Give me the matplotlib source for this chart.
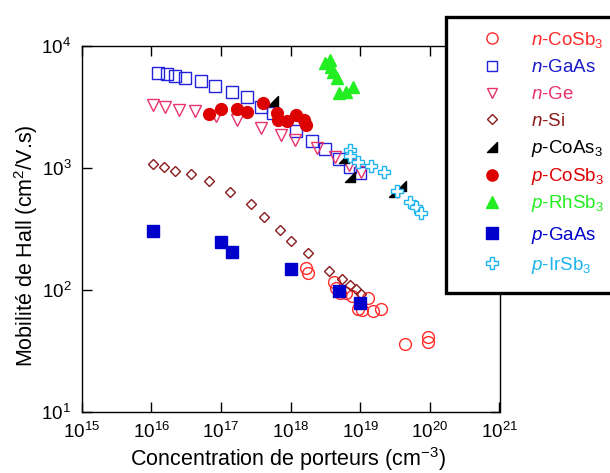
import numpy as np
import matplotlib
matplotlib.use("Agg")
import matplotlib.pyplot as plt
from matplotlib.path import Path
from matplotlib.lines import Line2D
from matplotlib.patches import Rectangle
from matplotlib.ticker import LogLocator, NullLocator

plt.rcParams['font.family'] = 'Liberation Sans'
plt.rcParams['mathtext.fontset'] = 'custom'
plt.rcParams['mathtext.rm'] = 'Liberation Sans'
plt.rcParams['mathtext.it'] = 'Liberation Sans:italic'
plt.rcParams['font.size'] = 13.5

# Data (carrier concentration in cm^-3, mobility in cm^2/V.s)
n_cosb3_x = [1.64e18, 1.78e18, 4.2e18, 4.45e18, 5.1e18, 6.2e18, 7.5e18, 9.3e18,
             1.06e19, 1.29e19, 1.53e19, 2.0e19, 4.45e19, 9.4e19, 9.4e19]
n_cosb3_y = [150, 136, 116, 103, 94, 94, 88, 70, 68, 85, 67, 70, 36, 41, 37.5]

n_gaas_x = [1.23e16, 1.66e16, 2.18e16, 3.03e16, 5.1e16, 8.1e16, 1.42e17, 2.33e17,
            3.82e17, 5.6e17, 1.19e18, 2.0e18, 3.1e18, 5.0e18, 7.1e18, 9.8e18]
n_gaas_y = [6010, 5860, 5680, 5400, 5140, 4700, 4200, 3780,
            3160, 2790, 2010, 1650, 1415, 1180, 1020, 910]

n_ge_x = [1.07e16, 1.57e16, 2.5e16, 4.2e16, 8.6e16, 1.7e17, 3.7e17, 7.2e17,
          1.17e18, 2.4e18, 4.4e18, 6.8e18, 1.04e19]
n_ge_y = [3265, 3130, 2970, 2915, 2650, 2460, 2100, 1850,
          1690, 1440, 1230, 1050, 927]

n_si_x = [1.07e16, 1.5e16, 2.2e16, 3.7e16, 6.8e16, 1.37e17, 2.66e17, 4.17e17,
          7.0e17, 1.0e18, 1.75e18, 3.56e18, 5.4e18, 7.2e18, 8.8e18, 1.04e19]
n_si_y = [1070, 1008, 940, 883, 774, 629, 501, 397,
          309, 251, 199, 141, 122, 109, 101, 93]

p_coas3_x = [5.6e17, 5.9e18, 7.1e18, 3.1e19, 3.8e19]
p_coas3_y = [3520, 1195, 834, 632, 708]

p_cosb3_x = [6.8e16, 9.9e16, 1.7e17, 2.33e17, 4.0e17, 6.3e17, 6.6e17, 9.0e17,
             1.2e18, 1.57e18, 1.65e18]
p_cosb3_y = [2755, 3030, 3030, 2880, 3370, 2820, 2460, 2415,
             2680, 2460, 2240]

p_rhsb3_x = [3.1e18, 3.65e18, 3.86e18, 4.07e18, 4.65e18, 4.96e18, 6.3e18, 7.9e18]
p_rhsb3_y = [7170, 7630, 6730, 6120, 5400, 4070, 4200, 4610]

p_gaas_x = [1.05e16, 1.0e17, 1.42e17, 1.0e18, 5.0e18, 1.0e19]
p_gaas_y = [303, 247, 204, 147, 98, 78]

p_irsb3_x = [7.1e18, 7.1e18, 9.3e18, 1.45e19, 2.17e19, 3.37e19, 5.1e19, 6.4e19, 7.55e19]
p_irsb3_y = [1397, 1247, 1120, 1033, 927, 648, 526, 479, 423]

# right-angle triangle marker (like the black "wedge" in the original)
wedge = Path([(-1, -1), (1, -1), (1, 1), (-1, -1)],
             [Path.MOVETO, Path.LINETO, Path.LINETO, Path.CLOSEPOLY])

# label, x, y, marker, size, edge colour, face colour
series = [
    (r'$\it{n}$-CoSb$_3$', n_cosb3_x, n_cosb3_y, 'o', 8.5, '#ff2a2a', 'none'),
    (r'$\it{n}$-GaAs', n_gaas_x, n_gaas_y, 's', 8.0, '#2222dd', 'none'),
    (r'$\it{n}$-Ge', n_ge_x, n_ge_y, 'v', 8.0, '#e8336b', 'none'),
    (r'$\it{n}$-Si', n_si_x, n_si_y, 'D', 5.2, '#8b1a1a', 'none'),
    (r'$\it{p}$-CoAs$_3$', p_coas3_x, p_coas3_y, wedge, 7.5, 'black', 'black'),
    (r'$\it{p}$-CoSb$_3$', p_cosb3_x, p_cosb3_y, 'o', 8.5, '#dd0000', '#dd0000'),
    (r'$\it{p}$-RhSb$_3$', p_rhsb3_x, p_rhsb3_y, '^', 8.5, '#22ee22', '#22ee22'),
    (r'$\it{p}$-GaAs', p_gaas_x, p_gaas_y, 's', 9.0, '#0000cc', '#0000cc'),
    (r'$\it{p}$-IrSb$_3$', p_irsb3_x, p_irsb3_y, 'P', 8.5, '#1eb4f0', 'white'),
]
text_colors = ['#ff2a2a', '#1a1acc', '#e8336b', '#8b1a1a', 'black',
               '#dd0000', '#22ee22', '#0000cc', '#1eb4f0']

W, H = 610, 473
fig = plt.figure(figsize=(W / 100, H / 100), dpi=100)
ax = fig.add_axes([81.7 / W, 1 - 411.7 / H, (499.5 - 81.7) / W, (411.7 - 45.7) / H])

for lab, x, y, mk, ms, ec, fc in series:
    ax.plot(x, y, linestyle='none', marker=mk, ms=ms, mec=ec, mfc=fc, mew=1.0)

ax.set_xscale('log')
ax.set_yscale('log')
ax.set_xlim(1e15, 1e21)
ax.set_ylim(1e1, 1e4)
ax.xaxis.set_major_locator(LogLocator(base=10, numticks=10))
ax.yaxis.set_major_locator(LogLocator(base=10, numticks=10))
ax.xaxis.set_minor_locator(NullLocator())
ax.yaxis.set_minor_locator(NullLocator())
ax.tick_params(which='major', direction='in', length=7, width=1,
               top=True, right=True, labelsize=13.5)
ax.tick_params(axis='x', pad=7)
ax.tick_params(axis='y', pad=7.5)
for sp in ax.spines.values():
    sp.set_linewidth(1.0)

ax.set_xlabel(r'Concentration de porteurs (cm$^{-3}$)', fontsize=15.5)
ax.set_ylabel(r'Mobilité de Hall (cm$^{2}$/V.s)', fontsize=15.5)
ax.xaxis.set_label_coords(0.494, -0.090, transform=ax.transAxes)
ax.yaxis.set_label_coords(-0.101, 0.453, transform=ax.transAxes)

# legend box, drawn by hand so it runs past the right edge like the original
box = Rectangle((446 / W, 1 - 293 / H), (640 - 446) / W, (293 - 16.7) / H,
                transform=fig.transFigure, facecolor='white', edgecolor='black',
                linewidth=2.4, zorder=10, clip_on=False)
fig.add_artist(box)
row_y = [38.3, 65.7, 92.7, 119.5, 146.7, 174.5, 201.7, 233.3, 263]
for (lab, x, y, mk, ms, ec, fc), yy, tc in zip(series, row_y, text_colors):
    fy = 1 - yy / H
    fig.add_artist(Line2D([492 / W], [fy], transform=fig.transFigure, linestyle='none',
                          marker=mk, ms=ms * 0.95, mec=ec, mfc=fc, mew=1.0, zorder=11))
    fig.text(530.7 / W, fy - 6.5 / H, lab, color=tc, fontsize=13.5,
             va='baseline', ha='left', zorder=11)

plt.savefig('out.png', dpi=100)
